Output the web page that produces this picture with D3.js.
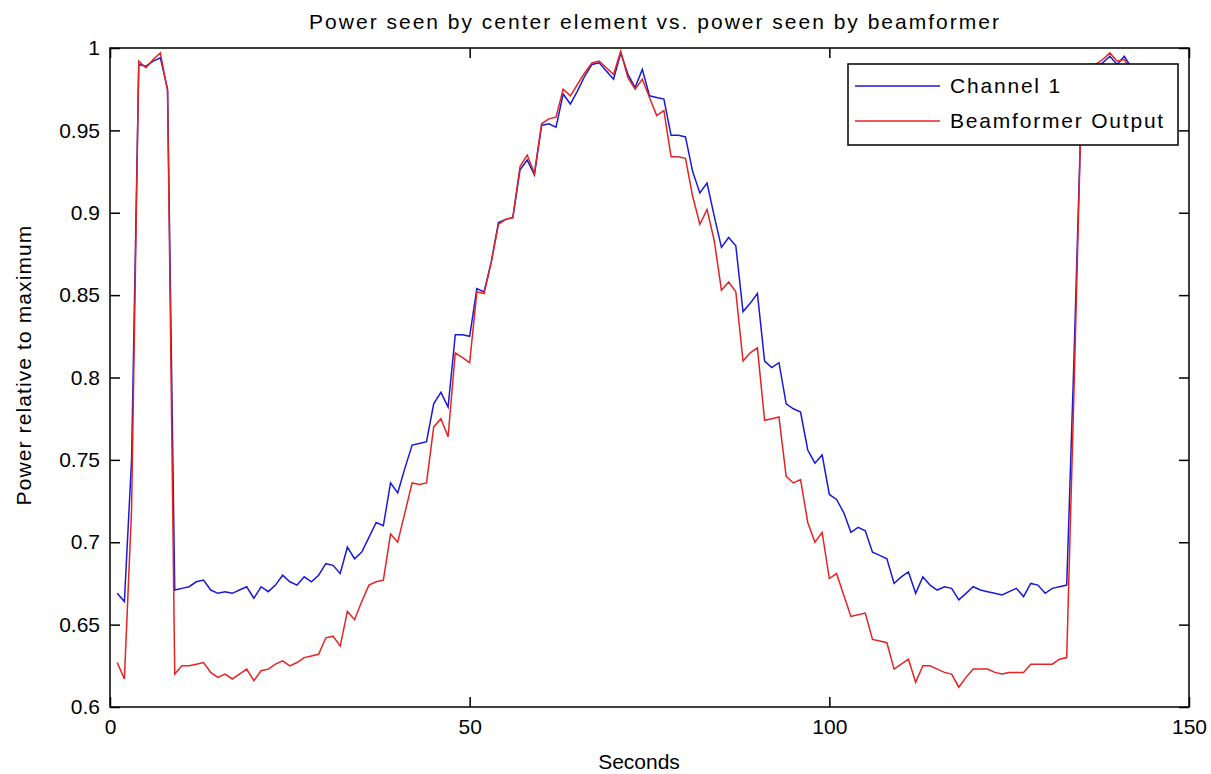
<!DOCTYPE html>
<html>
<head>
<meta charset="utf-8">
<script src="https://cdn.jsdelivr.net/npm/d3@7/dist/d3.min.js"></script>
<style>
  body { margin: 0; background: #fff; }
  text { font-family: "Liberation Sans", Arial, Helvetica, sans-serif; fill: #000; }
</style>
</head>
<body>
<svg id="chart" width="1211" height="774"></svg>
<script>
// time axis (seconds)
const seconds = [
  1, 2, 3, 4, 5, 6, 7, 8, 9, 10, 11, 12, 13, 14, 15, 16, 17, 18, 19, 20,
  21, 22, 23, 24, 25, 26, 27, 28, 29, 30, 31, 32, 33, 34, 35, 36, 37, 38, 39, 40,
  41, 42, 43, 44, 45, 46, 47, 48, 49, 50, 51, 52, 53, 54, 55, 56, 57, 58, 59, 60,
  61, 62, 63, 64, 65, 66, 67, 68, 69, 70, 71, 72, 73, 74, 75, 76, 77, 78, 79, 80,
  81, 82, 83, 84, 85, 86, 87, 88, 89, 90, 91, 92, 93, 94, 95, 96, 97, 98, 99, 100,
  101, 102, 103, 104, 105, 106, 107, 108, 109, 110, 111, 112, 113, 114, 115, 116, 117, 118, 119, 120,
  121, 122, 123, 124, 125, 126, 127, 128, 129, 130, 131, 132, 133, 134, 135, 136, 137, 138, 139, 140,
  141, 142
];

// power of center element
const channel1 = [
  0.669, 0.664, 0.750, 0.990, 0.989, 0.992, 0.994, 0.975, 0.671, 0.672,
  0.673, 0.676, 0.677, 0.671, 0.669, 0.670, 0.669, 0.671, 0.673, 0.666,
  0.673, 0.670, 0.674, 0.680, 0.676, 0.674, 0.679, 0.676, 0.680, 0.687,
  0.686, 0.681, 0.697, 0.690, 0.694, 0.703, 0.712, 0.710, 0.736, 0.730,
  0.745, 0.759, 0.760, 0.761, 0.784, 0.791, 0.782, 0.826, 0.826, 0.825,
  0.854, 0.852, 0.870, 0.894, 0.896, 0.897, 0.926, 0.932, 0.923, 0.953,
  0.954, 0.952, 0.972, 0.966, 0.974, 0.983, 0.990, 0.991, 0.986, 0.981,
  0.997, 0.984, 0.976, 0.987, 0.971, 0.970, 0.969, 0.947, 0.947, 0.946,
  0.925, 0.912, 0.918, 0.898, 0.879, 0.885, 0.880, 0.840, 0.845, 0.851,
  0.810, 0.806, 0.809, 0.784, 0.781, 0.779, 0.756, 0.748, 0.753, 0.729,
  0.726, 0.718, 0.706, 0.709, 0.707, 0.694, 0.692, 0.690, 0.675, 0.679,
  0.682, 0.669, 0.679, 0.674, 0.671, 0.673, 0.672, 0.665, 0.669, 0.673,
  0.671, 0.670, 0.669, 0.668, 0.670, 0.672, 0.667, 0.675, 0.674, 0.669,
  0.672, 0.673, 0.674, 0.810, 0.960, 0.990, 0.989, 0.991, 0.995, 0.990,
  0.995, 0.988
];

// power of beamformer output
const beamformer = [
  0.627, 0.617, 0.720, 0.992, 0.988, 0.993, 0.997, 0.974, 0.620, 0.625,
  0.625, 0.626, 0.627, 0.621, 0.618, 0.620, 0.617, 0.620, 0.623, 0.616,
  0.622, 0.623, 0.626, 0.628, 0.625, 0.627, 0.630, 0.631, 0.632, 0.642,
  0.643, 0.637, 0.658, 0.653, 0.664, 0.674, 0.676, 0.677, 0.705, 0.700,
  0.718, 0.736, 0.735, 0.736, 0.770, 0.775, 0.764, 0.815, 0.812, 0.809,
  0.852, 0.851, 0.870, 0.893, 0.896, 0.897, 0.928, 0.935, 0.924, 0.954,
  0.957, 0.958, 0.975, 0.971, 0.978, 0.985, 0.991, 0.992, 0.988, 0.984,
  0.998, 0.982, 0.975, 0.981, 0.970, 0.959, 0.962, 0.934, 0.934, 0.933,
  0.910, 0.893, 0.902, 0.883, 0.853, 0.858, 0.852, 0.810, 0.815, 0.818,
  0.774, 0.775, 0.776, 0.740, 0.736, 0.738, 0.712, 0.700, 0.706, 0.678,
  0.681, 0.668, 0.655, 0.656, 0.657, 0.641, 0.640, 0.639, 0.623, 0.626,
  0.629, 0.615, 0.625, 0.625, 0.623, 0.621, 0.620, 0.612, 0.618, 0.623,
  0.623, 0.623, 0.621, 0.620, 0.621, 0.621, 0.621, 0.626, 0.626, 0.626,
  0.626, 0.629, 0.630, 0.790, 0.960, 0.990, 0.990, 0.993, 0.997, 0.992,
  0.993, 0.986
];

const seriesNames = ["Channel 1", "Beamformer Output"];
const seriesColors = ["#1a1ad6", "#e42424"];
const xTicks = [0, 50, 100, 150];
const yTicks = [0.6, 0.65, 0.7, 0.75, 0.8, 0.85, 0.9, 0.95, 1];
const yTickLabels = ["0.6", "0.65", "0.7", "0.75", "0.8", "0.85", "0.9", "0.95", "1"];

const width = 1211, height = 774;
const margin = { top: 48, right: 22, bottom: 67, left: 110 };

const svg = d3.select("#chart");

const x = d3.scaleLinear()
  .domain([0, 150])
  .range([margin.left, width - margin.right]);

const y = d3.scaleLinear()
  .domain([0.6, 1])
  .range([height - margin.bottom, margin.top]);

// clip lines to the axes box
svg.append("clipPath")
  .attr("id", "plotClip")
  .append("rect")
  .attr("x", margin.left)
  .attr("y", margin.top)
  .attr("width", width - margin.left - margin.right)
  .attr("height", height - margin.top - margin.bottom);

// === LINES ===
const line = d3.line()
  .x((d, i) => x(seconds[i]))
  .y(d => y(d));

[channel1, beamformer].forEach((values, k) => {
  svg.append("path")
    .datum(values)
    .attr("clip-path", "url(#plotClip)")
    .attr("fill", "none")
    .attr("stroke", seriesColors[k])
    .attr("stroke-width", 1.5)
    .attr("stroke-linejoin", "miter")
    .attr("d", line);
});

// === AXES === (ticks point inward on all four sides)
const tickLen = 10;

const fmtY = d => yTickLabels[yTicks.indexOf(d)];

const gBottom = svg.append("g")
  .attr("transform", `translate(0,${height - margin.bottom})`)
  .call(d3.axisBottom(x).tickValues(xTicks).tickSize(-tickLen).tickPadding(12).tickFormat(d3.format("d")));

const gTop = svg.append("g")
  .attr("transform", `translate(0,${margin.top})`)
  .call(d3.axisTop(x).tickValues(xTicks).tickSize(-tickLen).tickFormat(""));

const gLeft = svg.append("g")
  .attr("transform", `translate(${margin.left},0)`)
  .call(d3.axisLeft(y).tickValues(yTicks).tickSize(-tickLen).tickPadding(10).tickFormat(fmtY));

const gRight = svg.append("g")
  .attr("transform", `translate(${width - margin.right},0)`)
  .call(d3.axisRight(y).tickValues(yTicks).tickSize(-tickLen).tickFormat(""));

[gBottom, gTop, gLeft, gRight].forEach(g => {
  g.select(".domain").remove();
  g.selectAll(".tick line").attr("stroke", "#000").attr("stroke-width", 1.5);
  g.selectAll(".tick text").style("font-size", "21px").attr("fill", "#000");
});

// axes box
svg.append("rect")
  .attr("x", margin.left)
  .attr("y", margin.top)
  .attr("width", width - margin.left - margin.right)
  .attr("height", height - margin.top - margin.bottom)
  .attr("fill", "none")
  .attr("stroke", "#000")
  .attr("stroke-width", 1.5);

// === LABELS ===
svg.append("text")
  .attr("x", 655)
  .attr("y", 22)
  .attr("dy", "0.35em")
  .attr("text-anchor", "middle")
  .style("font-size", "21px")
  .style("letter-spacing", "2px")
  .text("Power seen by center element vs. power seen by beamformer");

svg.append("text")
  .attr("x", 639)
  .attr("y", 762)
  .attr("dy", "0.35em")
  .attr("text-anchor", "middle")
  .style("font-size", "21px")
  .text("Seconds");

svg.append("text")
  .attr("transform", "translate(24,365) rotate(-90)")
  .attr("dy", "0.35em")
  .attr("text-anchor", "middle")
  .style("font-size", "21px")
  .style("letter-spacing", "1.1px")
  .text("Power relative to maximum");

// === LEGEND ===
const legend = svg.append("g").attr("transform", "translate(848,64)");

legend.append("rect")
  .attr("width", 330)
  .attr("height", 81)
  .attr("fill", "#fff")
  .attr("stroke", "#000")
  .attr("stroke-width", 1.5);

seriesNames.forEach((name, i) => {
  const ly = 22 + i * 35;
  legend.append("line")
    .attr("x1", 7).attr("x2", 92)
    .attr("y1", ly).attr("y2", ly)
    .attr("stroke", seriesColors[i])
    .attr("stroke-width", 1.5);
  legend.append("text")
    .attr("x", 102)
    .attr("y", ly)
    .attr("dy", "0.35em")
    .style("font-size", "21px")
    .style("letter-spacing", "1.8px")
    .text(name);
});
</script>
</body>
</html>
